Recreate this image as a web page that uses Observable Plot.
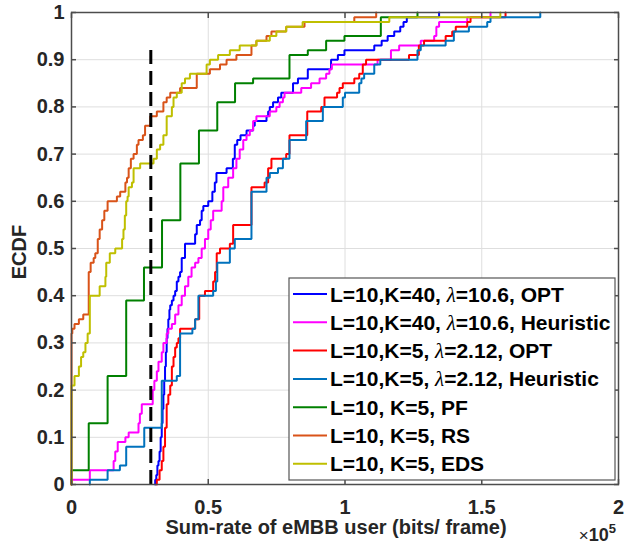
<!DOCTYPE html>
<html>
<head>
<meta charset="utf-8">
<script src="https://cdn.jsdelivr.net/npm/d3@7"></script>
<script src="https://cdn.jsdelivr.net/npm/@observablehq/plot@0.6"></script>
<style>
html, body { margin: 0; padding: 0; background: #fff; }
#chart { width: 624px; height: 544px; }
</style>
</head>
<body>
<div id="chart"></div>
<script>
// ---- Data (x in units of 1e5 bits/frame, y = ECDF) ----
const seriesNames = [
  "L=10,K=40, λ=10.6, OPT",
  "L=10,K=40, λ=10.6, Heuristic",
  "L=10,K=5, λ=2.12, OPT",
  "L=10,K=5, λ=2.12, Heuristic",
  "L=10, K=5, PF",
  "L=10, K=5, RS",
  "L=10, K=5, EDS"
];
const seriesColors = ["#0000FF", "#FF00FF", "#FF0000", "#0072BD", "#008000", "#D95319", "#BFBF00"];

const optK40 = [[0.306,0.01],[0.310,0.02],[0.314,0.04],[0.318,0.05],[0.322,0.07],[0.326,0.10],[0.330,0.13],[0.333,0.16],[0.336,0.19],[0.339,0.22],[0.342,0.25],[0.345,0.28],[0.348,0.31],[0.351,0.33],[0.354,0.35],[0.358,0.37],[0.361,0.38],[0.367,0.39],[0.373,0.40],[0.379,0.41],[0.385,0.43],[0.391,0.44],[0.397,0.45],[0.403,0.48],[0.415,0.51],[0.452,0.53],[0.458,0.55],[0.470,0.56],[0.476,0.58],[0.482,0.59],[0.500,0.60],[0.515,0.62],[0.524,0.64],[0.530,0.66],[0.567,0.67],[0.590,0.69],[0.597,0.72],[0.606,0.73],[0.618,0.74],[0.640,0.75],[0.664,0.76],[0.670,0.77],[0.713,0.78],[0.719,0.79],[0.725,0.80],[0.737,0.81],[0.755,0.82],[0.767,0.83],[0.810,0.85],[0.828,0.86],[0.864,0.88],[0.949,0.90],[0.974,0.91],[0.998,0.92],[1.107,0.93],[1.134,0.94],[1.156,0.95],[1.180,0.96],[1.202,0.97],[1.214,0.98],[1.226,0.99],[1.344,1.00]];

const heuK40 = [[0,0.01],[0.067,0.03],[0.154,0.05],[0.160,0.07],[0.169,0.09],[0.197,0.10],[0.209,0.11],[0.245,0.13],[0.250,0.15],[0.257,0.17],[0.297,0.20],[0.303,0.22],[0.312,0.24],[0.318,0.26],[0.330,0.28],[0.336,0.30],[0.348,0.32],[0.354,0.33],[0.367,0.34],[0.379,0.36],[0.391,0.38],[0.403,0.40],[0.415,0.42],[0.427,0.44],[0.439,0.46],[0.452,0.47],[0.464,0.48],[0.476,0.50],[0.488,0.52],[0.500,0.54],[0.509,0.56],[0.518,0.58],[0.549,0.60],[0.555,0.63],[0.573,0.65],[0.591,0.67],[0.603,0.69],[0.615,0.71],[0.628,0.73],[0.640,0.74],[0.652,0.75],[0.664,0.77],[0.676,0.78],[0.725,0.79],[0.749,0.80],[0.761,0.81],[0.773,0.82],[0.779,0.83],[0.840,0.84],[0.876,0.85],[0.907,0.86],[0.931,0.87],[0.943,0.88],[0.952,0.89],[1.119,0.90],[1.168,0.92],[1.198,0.93],[1.277,0.94],[1.326,0.95],[1.334,0.97],[1.344,0.98],[1.447,0.99],[1.532,1.00]];

const optK5 = [[0.312,0.01],[0.322,0.03],[0.330,0.05],[0.336,0.08],[0.342,0.12],[0.348,0.17],[0.354,0.19],[0.361,0.21],[0.367,0.25],[0.373,0.27],[0.379,0.29],[0.385,0.30],[0.391,0.31],[0.397,0.33],[0.452,0.35],[0.467,0.40],[0.488,0.41],[0.518,0.43],[0.525,0.45],[0.531,0.49],[0.543,0.50],[0.579,0.51],[0.591,0.55],[0.658,0.63],[0.706,0.64],[0.719,0.67],[0.731,0.69],[0.785,0.70],[0.797,0.74],[0.862,0.79],[0.913,0.80],[0.925,0.82],[0.971,0.83],[0.980,0.84],[0.992,0.85],[1.034,0.86],[1.052,0.87],[1.065,0.89],[1.077,0.90],[1.234,0.91],[1.270,0.93],[1.289,0.94],[1.368,0.95],[1.392,0.96],[1.405,0.97],[1.447,0.98],[1.459,0.99],[1.587,1.00]];

const heuK5 = [[0.067,0.01],[0.132,0.03],[0.177,0.04],[0.200,0.08],[0.266,0.12],[0.330,0.22],[0.385,0.23],[0.397,0.32],[0.442,0.33],[0.452,0.35],[0.464,0.40],[0.518,0.41],[0.528,0.43],[0.533,0.47],[0.579,0.50],[0.597,0.52],[0.658,0.62],[0.713,0.65],[0.725,0.66],[0.755,0.67],[0.773,0.69],[0.797,0.73],[0.858,0.77],[0.919,0.80],[0.992,0.82],[1.000,0.83],[1.052,0.85],[1.060,0.86],[1.070,0.87],[1.107,0.89],[1.129,0.90],[1.265,0.92],[1.277,0.93],[1.368,0.94],[1.398,0.96],[1.453,0.97],[1.520,0.98],[1.532,0.99],[1.714,1.00]];

const pf = [[0,0.03],[0.063,0.13],[0.132,0.23],[0.200,0.39],[0.265,0.46],[0.331,0.56],[0.398,0.68],[0.466,0.75],[0.533,0.81],[0.598,0.85],[0.664,0.86],[0.797,0.91],[0.864,0.92],[0.931,0.94],[0.998,0.95],[1.131,0.99],[1.265,1.00]];

const rs = [[0,0.32],[0.003,0.33],[0.011,0.34],[0.027,0.35],[0.043,0.36],[0.063,0.45],[0.070,0.47],[0.081,0.48],[0.087,0.49],[0.096,0.52],[0.103,0.54],[0.112,0.56],[0.120,0.58],[0.132,0.60],[0.166,0.61],[0.178,0.62],[0.197,0.64],[0.203,0.65],[0.209,0.67],[0.217,0.69],[0.227,0.70],[0.239,0.72],[0.245,0.73],[0.261,0.74],[0.269,0.76],[0.288,0.78],[0.312,0.79],[0.336,0.81],[0.348,0.82],[0.361,0.83],[0.397,0.84],[0.458,0.87],[0.506,0.88],[0.543,0.89],[0.567,0.90],[0.603,0.91],[0.658,0.93],[0.676,0.94],[0.713,0.95],[0.731,0.96],[0.785,0.97],[0.852,0.98],[1.034,0.99],[1.114,1.00]];

const eds = [[0,0.21],[0.011,0.23],[0.027,0.25],[0.035,0.27],[0.043,0.28],[0.051,0.30],[0.059,0.32],[0.067,0.40],[0.103,0.42],[0.124,0.44],[0.127,0.47],[0.140,0.49],[0.160,0.50],[0.185,0.52],[0.190,0.54],[0.195,0.57],[0.200,0.60],[0.205,0.61],[0.209,0.63],[0.221,0.64],[0.227,0.67],[0.251,0.68],[0.300,0.69],[0.312,0.71],[0.324,0.72],[0.336,0.74],[0.348,0.78],[0.367,0.80],[0.373,0.82],[0.385,0.83],[0.403,0.85],[0.415,0.86],[0.433,0.87],[0.494,0.89],[0.506,0.90],[0.536,0.91],[0.579,0.92],[0.615,0.93],[0.676,0.94],[0.725,0.95],[0.749,0.96],[0.785,0.97],[0.845,0.98],[1.162,0.99],[1.568,1.00]];

const seriesSteps = [optK40, heuK40, optK5, heuK5, pf, rs, eds];

const thresholdX = 0.29;     // dashed reference line
const thresholdTop = 0.92;

const xTicks = [0, 0.5, 1, 1.5, 2];
const yTicks = [0, 0.1, 0.2, 0.3, 0.4, 0.5, 0.6, 0.7, 0.8, 0.9, 1];

const xLabel = "Sum-rate of eMBB user (bits/ frame)";
const yLabel = "ECDF";

// ---- Build step rows ----
function toRows(steps, name) {
  const rows = [{series: name, x: steps[0][0], y: 0}];
  for (const [x, y] of steps) rows.push({series: name, x, y});
  return rows;
}

const FONT = "'Liberation Sans', Arial, Helvetica, sans-serif";
const AXIS = "#4d4d4d";
const TXT = "#262626";

const lineMarks = seriesSteps.map((s, i) =>
  Plot.line(toRows(s, seriesNames[i]), {
    x: "x", y: "y", curve: "step-after",
    stroke: seriesColors[i], strokeWidth: 2, strokeLinejoin: "miter"
  })
);

const chart = Plot.plot({
  width: 624,
  height: 544,
  marginLeft: 71,
  marginRight: 6,
  marginTop: 12,
  marginBottom: 60,
  style: {fontFamily: FONT, fontSize: "20px", fontWeight: "bold", color: TXT, background: "white", overflow: "visible"},
  x: {domain: [0, 2]},
  y: {domain: [0, 1]},
  marks: [
    Plot.gridX(xTicks, {stroke: "#dedede", strokeOpacity: 1, strokeWidth: 1}),
    Plot.gridY(yTicks, {stroke: "#dedede", strokeOpacity: 1, strokeWidth: 1}),
    ...lineMarks,
    Plot.ruleX([thresholdX], {y1: 0, y2: thresholdTop, stroke: "black", strokeWidth: 3, strokeDasharray: "14,7"}),
    Plot.frame({stroke: AXIS, strokeWidth: 1.5}),
    Plot.axisX(xTicks, {anchor: "bottom", tickSize: -5, tickPadding: 20, stroke: AXIS, strokeWidth: 1.5, tickFormat: d => String(d), label: null, fill: TXT}),
    Plot.axisX(xTicks, {anchor: "top", tickSize: -5, stroke: AXIS, strokeWidth: 1.5, tickFormat: () => "", label: null}),
    Plot.axisY(yTicks, {anchor: "left", tickSize: -5, tickPadding: 12, stroke: AXIS, strokeWidth: 1.5, tickFormat: d => String(d), label: null, fill: TXT}),
    Plot.axisY(yTicks, {anchor: "right", tickSize: -5, stroke: AXIS, strokeWidth: 1.5, tickFormat: () => "", label: null})
  ]
});

document.getElementById("chart").appendChild(chart);

// ---- Axis titles and exponent ----
const svg = d3.select(chart);
svg.append("text")
  .attr("x", 336).attr("y", 534)
  .attr("text-anchor", "middle")
  .attr("font-family", FONT).attr("font-size", 20).attr("font-weight", "bold").attr("fill", TXT)
  .text(xLabel);
svg.append("text")
  .attr("transform", "translate(26,252) rotate(-90)")
  .attr("text-anchor", "middle")
  .attr("font-family", FONT).attr("font-size", 20).attr("font-weight", "bold").attr("fill", TXT)
  .text(yLabel);
const mult = svg.append("text")
  .attr("x", 616).attr("y", 541)
  .attr("text-anchor", "end")
  .attr("font-family", FONT).attr("fill", TXT);
mult.append("tspan").attr("font-size", 17).attr("font-weight", "normal").text("×");
mult.append("tspan").attr("font-size", 18).attr("font-weight", "bold").text("10");
mult.append("tspan").attr("font-size", 13).attr("font-weight", "bold").attr("dy", -8).text("5");

// ---- Legend ----
const lg = svg.append("g").attr("text-anchor", "start");
const lx = 289, ly = 278, lw = 326, lh = 202, rowH = 28.3;
lg.append("rect").attr("x", lx).attr("y", ly).attr("width", lw).attr("height", lh)
  .attr("fill", "white").attr("stroke", "#555").attr("stroke-width", 1.2);
seriesNames.forEach((name, i) => {
  const cy = ly + 16 + i * rowH;
  lg.append("line").attr("x1", lx + 4).attr("x2", lx + 38).attr("y1", cy).attr("y2", cy)
    .attr("stroke", seriesColors[i]).attr("stroke-width", 2);
  const t = lg.append("text").attr("x", lx + 41).attr("y", cy + 7.5)
    .attr("text-anchor", "start")
    .attr("font-family", FONT).attr("font-size", 21).attr("font-weight", "bold").attr("fill", "black");
  const parts = name.split("λ");
  t.append("tspan").text(parts[0]);
  if (parts.length > 1) {
    t.append("tspan").attr("font-family", "'Liberation Serif', 'DejaVu Serif', serif")
      .attr("font-style", "italic").attr("font-weight", "normal").text("λ");
    t.append("tspan").text(parts[1]);
  }
});
</script>
</body>
</html>
